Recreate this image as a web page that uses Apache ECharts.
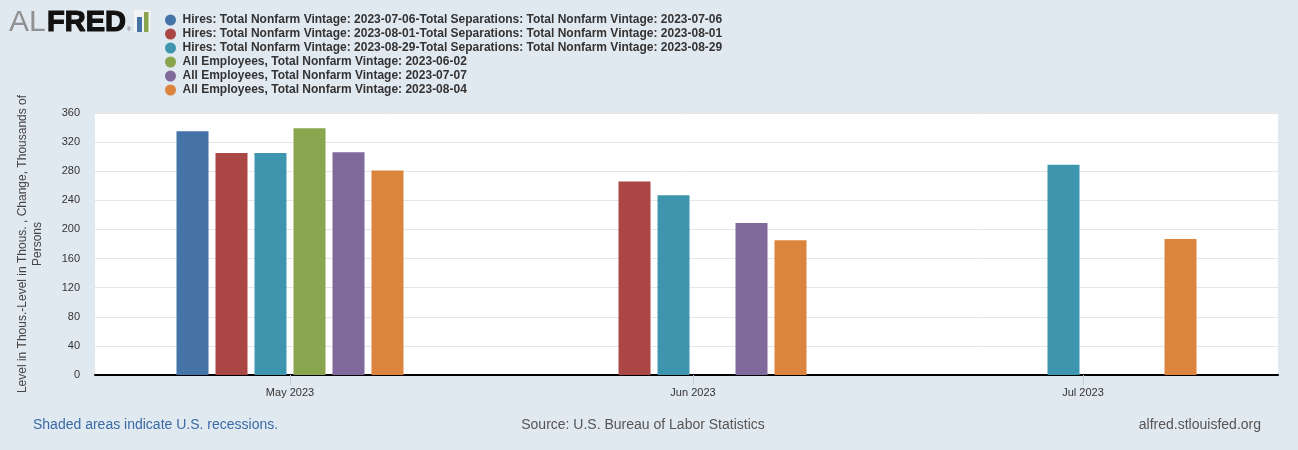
<!DOCTYPE html>
<html>
<head>
<meta charset="utf-8">
<script src="https://cdn.jsdelivr.net/npm/echarts@6/dist/echarts.min.js"></script>
<style>
html,body{margin:0;padding:0;background:#e1e9f0;}
#chart{width:1298px;height:450px;}
</style>
</head>
<body>
<div id="chart"></div>
<script>
// ---- data ----
const months = ['2023-05-01', '2023-06-01', '2023-07-01'];
const monthLabels = ['May 2023', 'Jun 2023', 'Jul 2023'];
const seriesNames = [
  'Hires: Total Nonfarm Vintage: 2023-07-06-Total Separations: Total Nonfarm Vintage: 2023-07-06',
  'Hires: Total Nonfarm Vintage: 2023-08-01-Total Separations: Total Nonfarm Vintage: 2023-08-01',
  'Hires: Total Nonfarm Vintage: 2023-08-29-Total Separations: Total Nonfarm Vintage: 2023-08-29',
  'All Employees, Total Nonfarm Vintage: 2023-06-02',
  'All Employees, Total Nonfarm Vintage: 2023-07-07',
  'All Employees, Total Nonfarm Vintage: 2023-08-04'
];
const hiresSep_20230706 = [335, null, null];
const hiresSep_20230801 = [305, 266, null];
const hiresSep_20230829 = [305, 247, 289];
const payems_20230602 = [339, null, null];
const payems_20230707 = [306, 209, null];
const payems_20230804 = [281, 185, 187];
const yTicks = [0, 40, 80, 120, 160, 200, 240, 280, 320, 360];

const seriesValues = [hiresSep_20230706, hiresSep_20230801, hiresSep_20230829,
                      payems_20230602, payems_20230707, payems_20230804];
const colors = ['#4572a7', '#aa4643', '#3d96ae', '#89a54e', '#80699b', '#db843d'];

function toTime(s) { const p = s.split('-').map(Number); return Date.UTC(p[0], p[1] - 1, p[2]); }
const monthTimes = months.map(toTime);

const chart = echarts.init(document.getElementById('chart'), null, {renderer: 'canvas'});
const FONT = 'Liberation Sans, Arial, sans-serif';

const option = {
  animation: false,
  backgroundColor: '#e1e9f0',
  color: colors,
  textStyle: {fontFamily: FONT},
  legend: {
    orient: 'vertical',
    left: 165,
    top: 13,
    icon: 'circle',
    itemWidth: 14,
    itemHeight: 11,
    itemGap: 0,
    padding: 0,
    selectedMode: false,
    textStyle: {fontFamily: FONT, fontSize: 12, fontWeight: 'bold', color: '#333', lineHeight: 14}
  },
  grid: {
    left: 95, right: 20, top: 113, bottom: 75,
    show: true, backgroundColor: '#ffffff', borderWidth: 0
  },
  xAxis: {
    type: 'value',
    scale: true,
    min: toTime('2023-04-16'),
    max: toTime('2023-07-16'),
    axisLine: {show: true, onZero: false, lineStyle: {color: '#000', width: 2}},
    axisTick: {show: true, customValues: monthTimes, length: 10, lineStyle: {color: '#c0d0e0', width: 1}},
    axisLabel: {
      customValues: monthTimes,
      margin: 12,
      fontSize: 11,
      color: '#333',
      fontFamily: FONT,
      formatter: function (v) {
        const i = monthTimes.indexOf(v);
        return i >= 0 ? monthLabels[i] : '';
      }
    },
    splitLine: {show: false}
  },
  yAxis: {
    type: 'value',
    min: yTicks[0],
    max: yTicks[yTicks.length - 1],
    interval: 40,
    axisLine: {show: false},
    axisTick: {show: false},
    axisLabel: {fontSize: 11, color: '#333', margin: 15, fontFamily: FONT},
    splitLine: {show: true, lineStyle: {color: '#e6e6e6', width: 1}}
  },
  series: seriesValues.map((vals, i) => ({
    name: seriesNames[i],
    type: 'bar',
    barWidth: 32,
    barGap: '21.875%',
    data: vals.map((v, j) => [monthTimes[j], v]),
    itemStyle: {color: colors[i]}
  })),
  graphic: [
    // y-axis title
    {
      type: 'text', x: 30, y: 244, rotation: Math.PI / 2,
      style: {
        text: 'Level in Thous.-Level in Thous. , Change, Thousands of\nPersons',
        fontSize: 12, fontFamily: FONT, fill: '#444',
        align: 'center', verticalAlign: 'middle', lineHeight: 15
      }
    },
    // logo
    {type: 'text', x: 9, y: 22.5, style: {text: 'AL', fontSize: 30, fontFamily: FONT, fill: '#909090', verticalAlign: 'middle'}},
    {type: 'text', x: 47, y: 22.5, style: {text: 'FRED', fontSize: 29, fontFamily: FONT, fontWeight: 'bold', fill: '#111', stroke: '#111', lineWidth: 1.2, verticalAlign: 'middle'}},
    {type: 'text', x: 127, y: 30, style: {text: '®', fontSize: 5, fontFamily: FONT, fill: '#555', verticalAlign: 'middle'}},
    {type: 'rect', shape: {x: 134, y: 10, width: 16.5, height: 22}, style: {fill: '#f2f4f5'}},
    {type: 'rect', shape: {x: 137, y: 17, width: 5, height: 15}, style: {fill: '#4572a7'}},
    {type: 'rect', shape: {x: 144, y: 12, width: 4.5, height: 20}, style: {fill: '#89a54e'}},
    // footer
    {type: 'text', x: 33, y: 425, style: {text: 'Shaded areas indicate U.S. recessions.', fontSize: 14, fontFamily: FONT, fill: '#3a6aa5', verticalAlign: 'middle'}},
    {type: 'text', x: 643, y: 425, style: {text: 'Source: U.S. Bureau of Labor Statistics', fontSize: 14, fontFamily: FONT, fill: '#555', align: 'center', verticalAlign: 'middle'}},
    {type: 'text', x: 1261, y: 425, style: {text: 'alfred.stlouisfed.org', fontSize: 14, fontFamily: FONT, fill: '#555', align: 'right', verticalAlign: 'middle'}}
  ]
};
chart.setOption(option);
</script>
</body>
</html>
